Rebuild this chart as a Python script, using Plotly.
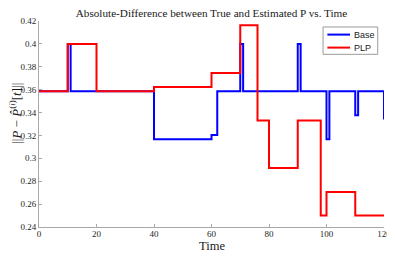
import plotly.graph_objects as go

# Data (step breakpoints)
base_t = [0, 10, 11, 40, 60, 62, 70, 71, 90, 91, 100, 101, 110, 111, 120]
base_v = [0.3586, 0.4, 0.3586, 0.3167, 0.3204, 0.3586, 0.4, 0.3586, 0.4, 0.3586,
          0.3167, 0.3586, 0.3377, 0.3586, 0.3339]

plp_t = [0, 10, 20, 40, 60, 70, 76, 80, 90, 98, 100, 110, 120]
plp_v = [0.3586, 0.4, 0.3586, 0.3624, 0.3746, 0.4163, 0.333, 0.2916, 0.333,
         0.25, 0.2706, 0.25, 0.25]

series_names = ["Base", "PLP"]
series_colors = ["#0000ff", "#ff0000"]

x_ticks = [0, 20, 40, 60, 80, 100, 120]
y_ticks = [0.24, 0.26, 0.28, 0.30, 0.32, 0.34, 0.36, 0.38, 0.40, 0.42]
y_tick_text = ["0.24", "0.26", "0.28", "0.3", "0.32", "0.34", "0.36", "0.38", "0.4", "0.42"]

serif = "Liberation Serif"
tick_color = "#262626"
axis_color = "#a8a8a8"
text_color = "#1a1a1a"

fig = go.Figure()
for t, v, name, col in [(base_t, base_v, series_names[0], series_colors[0]),
                        (plp_t, plp_v, series_names[1], series_colors[1])]:
    fig.add_trace(go.Scatter(x=t, y=v, mode="lines", name=name, showlegend=False,
                             line=dict(color=col, width=2, shape="hv")))

# Manual legend (MATLAB-style compact box), paper coordinates
leg_x0, leg_x1, leg_y0, leg_y1 = 0.8234, 0.9818, 0.8383, 0.9709
line_x0, line_x1, text_x = 0.8359, 0.9016, 0.9065
row_y = [0.934, 0.8709]

shapes = [dict(type="rect", xref="paper", yref="paper", x0=leg_x0, x1=leg_x1,
               y0=leg_y0, y1=leg_y1, line=dict(color="#9a9a9a", width=1),
               fillcolor="white", layer="above")]
annotations = []
for name, col, ry in zip(series_names, series_colors, row_y):
    shapes.append(dict(type="line", xref="paper", yref="paper", x0=line_x0, x1=line_x1,
                       y0=ry, y1=ry, line=dict(color=col, width=2), layer="above"))
    annotations.append(dict(text=name, xref="paper", yref="paper", x=text_x, y=ry,
                            xanchor="left", yanchor="middle", showarrow=False,
                            font=dict(family="Liberation Sans", size=9, color=text_color)))

annotations.append(dict(text="||<i>P</i> − <i>P̂</i><sup>(<i>i</i>)</sup>[<i>t</i>]||",
                        xref="paper", yref="paper", x=-0.068, y=0.552,
                        xanchor="center", yanchor="middle", textangle=-90, showarrow=False,
                        font=dict(family=serif, size=13, color=text_color)))
annotations.append(dict(text="Time", xref="paper", yref="paper", x=0.5, y=-0.093,
                        xanchor="center", yanchor="middle", showarrow=False, borderpad=0,
                        font=dict(family=serif, size=12.5, color=text_color)))

fig.update_layout(
    width=387, height=248,
    margin=dict(l=30.5, r=11, t=12.7, b=29.3, autoexpand=False),
    paper_bgcolor="white", plot_bgcolor="white",
    showlegend=False,
    title=dict(text="Absolute-Difference between True and Estimated P vs. Time",
               x=0.5, xref="paper", xanchor="center", yref="container", y=1.0 - 1.0 / 248,
               yanchor="top", pad=dict(t=0, b=0),
               font=dict(family=serif, size=11.2, color=text_color)),
    xaxis=dict(range=[0, 120], tickvals=x_ticks, ticks="inside", ticklen=3,
               tickcolor=axis_color, showline=True, linecolor=axis_color, linewidth=1,
               showgrid=False, zeroline=False, mirror=False, automargin=False,
               ticklabelstandoff=-2,
               tickfont=dict(family=serif, size=9, color=tick_color)),
    yaxis=dict(range=[0.24, 0.42], tickvals=y_ticks, ticktext=y_tick_text,
               ticks="inside", ticklen=3, tickcolor=axis_color,
               showline=True, linecolor=axis_color, linewidth=1,
               showgrid=False, zeroline=False, mirror=False, automargin=False,
               tickfont=dict(family=serif, size=9, color=tick_color)),
    shapes=shapes,
    annotations=annotations,
)

fig.write_html("out.html")
